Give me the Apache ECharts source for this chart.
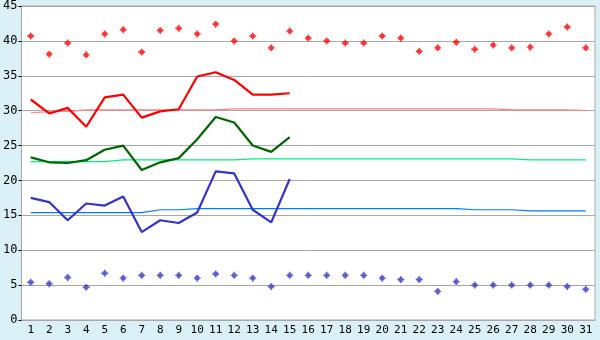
<!DOCTYPE html>
<html>
<head>
<meta charset="utf-8">
<script src="https://cdn.jsdelivr.net/npm/echarts@6/dist/echarts.min.js"></script>
<style>
html,body{margin:0;padding:0;background:#DAF0F6;}
#c{width:600px;height:340px;}
</style>
</head>
<body>
<div id="c"></div>
<script>
var days = [];
for (var i = 1; i <= 31; i++) days.push(String(i));

var recordMax = [40.7,38.1,39.7,38.0,41.0,41.6,38.4,41.5,41.8,41.0,42.4,40.0,40.7,39.0,41.4,40.4,40.0,39.7,39.7,40.7,40.4,38.5,39.0,39.8,38.8,39.4,39.0,39.1,41.0,42.0,39.0];
var recordMin = [5.4,5.2,6.1,4.7,6.7,6.0,6.4,6.4,6.4,6.0,6.6,6.4,6.0,4.8,6.4,6.4,6.4,6.4,6.4,6.0,5.8,5.8,4.1,5.5,5.0,5.0,5.0,5.0,5.0,4.8,4.4];

var actualMax = [31.6,29.6,30.4,27.7,31.9,32.3,29.0,29.9,30.2,34.9,35.5,34.4,32.3,32.3,32.5];
var actualMean = [23.3,22.6,22.5,22.9,24.4,25.0,21.5,22.6,23.2,25.9,29.1,28.3,25.0,24.1,26.2];
var actualMin = [17.5,16.9,14.3,16.7,16.4,17.7,12.6,14.3,13.9,15.4,21.3,21.0,15.8,14.0,20.2];

var normalMax = [29.7,29.85,29.9,30.1,30.1,30.1,30.1,30.1,30.1,30.1,30.1,30.25,30.25,30.25,30.25,30.25,30.25,30.25,30.25,30.25,30.25,30.25,30.25,30.25,30.25,30.25,30.1,30.1,30.1,30.1,30.0];
var normalMean = [22.7,22.7,22.7,22.7,22.7,22.95,22.95,22.95,22.95,22.95,22.95,22.95,23.1,23.1,23.1,23.1,23.1,23.1,23.1,23.1,23.1,23.1,23.1,23.1,23.1,23.1,23.1,22.95,22.95,22.95,22.95];
var normalMin = [15.4,15.4,15.4,15.4,15.4,15.4,15.4,15.8,15.8,15.95,15.95,15.95,15.95,15.95,15.95,15.95,15.95,15.95,15.95,15.95,15.95,15.95,15.95,15.95,15.8,15.8,15.8,15.65,15.65,15.65,15.65];

var yTicks = {min: 0, max: 45, interval: 5};

var marker = 'path://M2,0H3V1H4V2H5V3H4V4H3V5H2V4H1V3H0V2H1V1H2Z';

function lineS(data, color, width, z) {
  return {type: 'line', data: data, symbol: 'none', silent: true, z: z,
    lineStyle: {color: color, width: width}, animation: false};
}
function dotS(data, color) {
  return {type: 'scatter', data: data, symbol: marker, symbolSize: 7, z: 10,
    itemStyle: {color: color}, silent: true, animation: false};
}

var chart = echarts.init(document.getElementById('c'), null, {renderer: 'canvas'});
chart.setOption({
  backgroundColor: '#DAF0F6',
  animation: false,
  grid: {left: 20, right: 5, top: 5, bottom: 20, show: true, backgroundColor: '#FFFFFF', borderColor: '#A8A8A8', borderWidth: 1},
  xAxis: {
    type: 'category', data: days, boundaryGap: true,
    axisLine: {lineStyle: {color: '#A8A8A8', width: 1}},
    axisTick: {alignWithLabel: true, length: 4, lineStyle: {color: '#000'}},
    axisLabel: {color: '#000', fontFamily: 'DejaVu Sans Mono', fontSize: 11, margin: 5, interval: 0},
    splitLine: {show: false}
  },
  yAxis: {
    type: 'value', min: yTicks.min, max: yTicks.max, interval: yTicks.interval,
    axisLine: {show: true, lineStyle: {color: '#A8A8A8', width: 1}},
    axisTick: {show: true, length: 3, lineStyle: {color: '#000'}},
    axisLabel: {color: '#000', fontFamily: 'DejaVu Sans Mono', fontSize: 12, margin: 4},
    splitLine: {lineStyle: {color: '#A8A8A8', width: 1}}
  },
  series: [
    lineS(normalMax, '#FF8080', 1.2, 2),
    lineS(normalMean, '#00F080', 1.2, 2),
    lineS(normalMin, '#0078FF', 1.2, 2),
    lineS(actualMax, '#FF0000', 2.2, 5),
    lineS(actualMean, '#006600', 2.2, 5),
    lineS(actualMin, '#3333CC', 2.2, 5),
    dotS(recordMax, '#FF0000'),
    dotS(recordMin, '#3333CC')
  ]
});
</script>
</body>
</html>
